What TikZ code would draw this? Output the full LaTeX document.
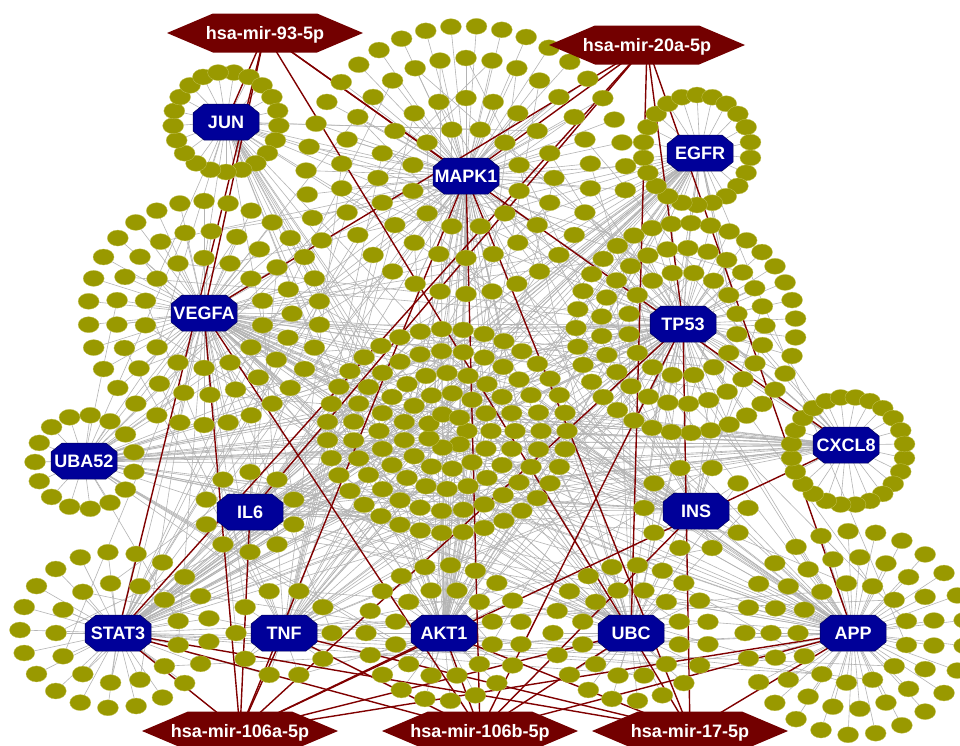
\documentclass[tikz,border=0pt]{standalone}
\usepackage{fontspec}
\setmainfont{Liberation Sans}
\usetikzlibrary{shapes.geometric}
\pgfdeclarelayer{bg}
\pgfdeclarelayer{redl}
\pgfdeclarelayer{top}
\pgfsetlayers{bg,redl,main,top}
\definecolor{leafol}{RGB}{153,153,0}
\definecolor{leafedge}{RGB}{196,196,90}
\definecolor{hubblue}{RGB}{0,0,153}
\definecolor{hubedge}{RGB}{0,0,90}
\definecolor{mirred}{RGB}{115,0,0}
\definecolor{redline}{RGB}{128,0,0}
\definecolor{grayline}{RGB}{180,180,180}
\tikzset{
 leaf/.style={ellipse, fill=leafol, draw=leafedge, line width=0.3pt, minimum width=21pt, minimum height=16pt, inner sep=0pt},
 hubtxt/.style={text=white, font=\fontsize{18}{20}\selectfont\bfseries, inner sep=0pt, text height=13pt, text depth=0pt},
 mirtxt/.style={text=white, font=\fontsize{18}{20}\selectfont\bfseries, inner sep=0pt, text height=13pt, text depth=0pt},
 hubshape/.style={fill=hubblue, draw=hubedge, line width=0.5pt},
 mirshape/.style={fill=mirred},
 gedge/.style={draw=grayline, line width=0.6pt},
 redge/.style={draw=redline, line width=1.4pt},
}
% hub: name, alias, x, y
\newcommand\hubnode[4]{%
 \fill[hubshape, shift={(#3,#4)}] (-33,-9) -- (-22,-18) -- (22,-18) -- (33,-9) -- (33,9) -- (22,18) -- (-22,18) -- (-33,9) -- cycle;
 \node[hubtxt, alias=#2] (#1) at (#3,#4) {#1};}
% mirna: name, x, y, text
\newcommand\mirnode[4]{%
 \fill[mirshape, shift={(#2,#3)}] (-98,0) -- (-52,-19.5) -- (52,-19.5) -- (98,0) -- (52,19.5) -- (-52,19.5) -- cycle;
 \node[mirtxt] (#1) at (#2,#3) {#4};}
% ring: hub, id, cx, cy, rx, ry, N, start, span
\newcommand\ringof[9]{%
 \foreach \k in {1,...,#7}{%
   \pgfmathsetmacro\ang{#8+#9*(\k-0.5)/#7}%
   \node[leaf] (#1-#2-\k) at ({#3+#5*cos(\ang)},{#4+#6*sin(\ang)}) {};%
 }}
% spokes: hub, id, N
\newcommand\spokes[3]{\foreach \k in {1,...,#3}{\draw[gedge] (#1) -- (#1-#2-\k);}}
% central ring without hub: id, rx, ry, N
\newcommand\cring[4]{%
 \foreach \k in {1,...,#4}{%
   \pgfmathsetmacro\ang{360*(\k-1)/#4}%
   \node[leaf] (C-#1-\k) at ({447+#2*cos(\ang)},{431+#3*sin(\ang)}) {};%
 }}
\begin{document}
\begin{tikzpicture}[x=1pt,y=-1pt]
\useasboundingbox (0,0) rectangle (960,745);
\begin{pgfonlayer}{top}
\hubnode{JUN}{h1}{226}{122}
\hubnode{MAPK1}{h2}{466}{176}
\hubnode{EGFR}{h3}{700}{153}
\hubnode{VEGFA}{h4}{204}{313}
\hubnode{TP53}{h5}{683}{324}
\hubnode{CXCL8}{h6}{846}{445}
\hubnode{UBA52}{h7}{84}{461}
\hubnode{IL6}{h8}{250}{512}
\hubnode{INS}{h9}{696}{511}
\hubnode{STAT3}{h10}{118}{633}
\hubnode{TNF}{h11}{284}{633}
\hubnode{AKT1}{h12}{444}{633}
\hubnode{UBC}{h13}{631}{633}
\hubnode{APP}{h14}{853}{633}
\mirnode{m93}{265}{33}{hsa-mir-93-5p}
\mirnode{m20a}{647}{45}{hsa-mir-20a-5p}
\mirnode{m106a}{240}{731}{hsa-mir-106a-5p}
\mirnode{m106b}{480}{731}{hsa-mir-106b-5p}
\mirnode{m17}{690}{731}{hsa-mir-17-5p}
\end{pgfonlayer}
% rings
\ringof{JUN}{a}{226}{122}{53}{50}{21}{-90}{360}
\ringof{MAPK1}{a}{466}{178}{55}{50}{12}{0}{360}
\ringof{MAPK1}{b}{466}{178}{88}{80}{20}{9}{360}
\ringof{MAPK1}{c}{466}{176}{125}{118}{30}{0}{360}
\ringof{MAPK1}{d}{466}{176}{160}{150}{24}{150}{220}
\ringof{VEGFA}{a}{204}{313}{60}{55}{14}{0}{360}
\ringof{VEGFA}{b}{204}{313}{88}{82}{21}{9}{360}
\ringof{VEGFA}{c}{204}{313}{116}{112}{30}{0}{360}
\ringof{TP53}{a}{683}{324}{55}{52}{16}{0}{360}
\ringof{TP53}{b}{683}{326}{82}{78}{25}{7}{360}
\ringof{TP53}{c}{686}{328}{110}{105}{35}{0}{360}
\ringof{EGFR}{a}{697}{150}{54}{55}{22}{0}{360}
\ringof{CXCL8}{a}{848}{451}{57}{54}{24}{0}{360}
\ringof{UBA52}{a}{85}{462}{50}{47}{15}{0}{360}
\ringof{IL6}{a}{250}{512}{46}{40}{10}{0}{360}
\ringof{INS}{a}{696}{508}{52}{42}{10}{18}{360}
\ringof{TNF}{a}{284}{633}{48}{44}{10}{18}{360}
\ringof{STAT3}{a}{118}{633}{62}{50}{13}{0}{360}
\ringof{STAT3}{b}{115}{630}{95}{78}{21}{0}{360}
\ringof{AKT1}{a}{444}{633}{50}{44}{12}{0}{360}
\ringof{AKT1}{b}{444}{633}{78}{68}{19}{0}{360}
\ringof{UBC}{a}{631}{633}{50}{44}{12}{0}{360}
\ringof{UBC}{b}{631}{633}{78}{68}{19}{0}{360}
\ringof{APP}{a}{853}{633}{55}{50}{13}{0}{360}
\ringof{APP}{b}{853}{633}{82}{76}{19}{0}{360}
\ringof{APP}{c}{855}{633}{110}{102}{25}{0}{360}
% central cluster
\cring{1}{20}{17}{7}
\cring{2}{44}{38}{13}
\cring{3}{68}{58}{20}
\cring{4}{94}{80}{27}
\cring{5}{120}{102}{35}
% gray links, one layer block
\pgfmathsetseed{2024}
\begin{pgfonlayer}{bg}
\fill[white] (0,0) rectangle (960,745);
\spokes{JUN}{a}{21}
\spokes{MAPK1}{a}{12}\spokes{MAPK1}{b}{20}\spokes{MAPK1}{c}{30}\spokes{MAPK1}{d}{24}
\spokes{VEGFA}{a}{14}\spokes{VEGFA}{b}{21}\spokes{VEGFA}{c}{30}
\spokes{TP53}{a}{16}\spokes{TP53}{b}{25}\spokes{TP53}{c}{35}
\spokes{EGFR}{a}{22}\spokes{CXCL8}{a}{24}\spokes{UBA52}{a}{15}
\spokes{IL6}{a}{10}\spokes{INS}{a}{10}\spokes{TNF}{a}{10}
\spokes{STAT3}{a}{13}\spokes{STAT3}{b}{21}
\spokes{AKT1}{a}{12}\spokes{AKT1}{b}{19}
\spokes{UBC}{a}{12}\spokes{UBC}{b}{19}
\spokes{APP}{a}{13}\spokes{APP}{b}{19}\spokes{APP}{c}{25}
\foreach \r/\n in {1/7,2/13,3/20,4/27,5/35}{
 \foreach \k in {1,...,\n}{
   \pgfmathrandominteger{\ha}{1}{14}
   \pgfmathrandominteger{\hb}{1}{14}
   \pgfmathrandominteger{\hc}{1}{14}
   \draw[gedge] (h\ha) -- (C-\r-\k);
   \draw[gedge] (h\hb) -- (C-\r-\k);
   \draw[gedge] (h\hc) -- (C-\r-\k);
 }}
\foreach \g/\n in {MAPK1-a/12,MAPK1-b/20,MAPK1-c/30,TP53-a/16,TP53-b/25,VEGFA-a/14,VEGFA-b/21,STAT3-a/13,AKT1-a/12,UBC-a/12,APP-a/13,IL6-a/10,INS-a/10,TNF-a/10}{
 \foreach \k in {1,...,\n}{
   \pgfmathrandominteger{\ha}{1}{14}
   \draw[gedge] (h\ha) -- (\g-\k);
 }}
\end{pgfonlayer}
% miRNA links
\begin{pgfonlayer}{redl}
\foreach \m/\h in {m93/JUN,m93/VEGFA,m93/STAT3,m93/MAPK1,m93/UBC,m93/CXCL8,
  m20a/MAPK1,m20a/VEGFA,m20a/IL6,m20a/STAT3,m20a/UBC,m20a/TP53,m20a/APP,
  m106a/STAT3,m106a/VEGFA,m106a/IL6,m106a/TNF,m106a/MAPK1,m106a/TP53,m106a/AKT1,m106a/UBC,m106a/APP,m106a/CXCL8,
  m106b/STAT3,m106b/VEGFA,m106b/MAPK1,m106b/AKT1,m106b/UBC,m106b/APP,m106b/TNF,m106b/TP53,m106b/INS,
  m17/STAT3,m17/MAPK1,m17/UBC,m17/APP,m17/TP53,m17/AKT1,m17/TNF}
  \draw[redge] (\m) -- (\h);
\end{pgfonlayer}
\end{tikzpicture}
\end{document}
